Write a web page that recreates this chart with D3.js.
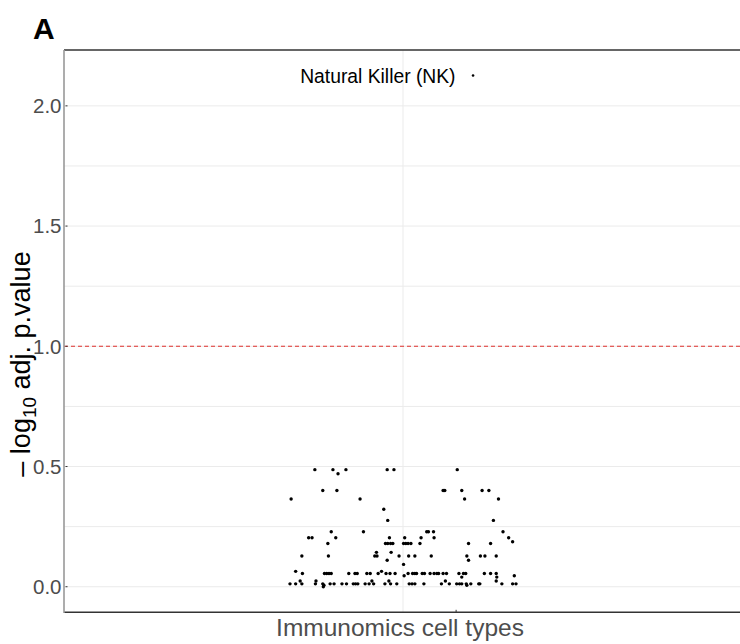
<!DOCTYPE html>
<html><head><meta charset="utf-8">
<script src="https://cdn.jsdelivr.net/npm/d3@7"></script>
<style>html,body{margin:0;padding:0;background:#fff;overflow:hidden}svg{display:block;overflow:hidden;font-family:"Liberation Sans",Arial,sans-serif}</style>
</head><body>
<svg id="chart" width="740" height="644"></svg>
<script>
// -log10 adjusted p-values by level, with jittered x positions (category at x = 1)
const levels = [0.487, 0.47, 0.40, 0.365, 0.322, 0.276, 0.229, 0.204, 0.187, 0.18, 0.143, 0.128, 0.11, 0.093, 0.064, 0.055, 0.046, 0.04, 0.024, 0.012, 0.006, 0.0];
const jitterByLevel = [
  [0.844, 0.876, 0.899, 0.972, 0.984, 1.096],
  [0.885],
  [0.858, 0.883, 1.071, 1.074, 1.104, 1.140, 1.152],
  [0.802, 0.924, 1.109, 1.169],
  [0.966],
  [0.973, 1.160],
  [0.873, 0.930, 1.042, 1.045, 1.054, 1.177],
  [0.833, 0.839, 0.881, 0.976, 1.003, 1.032, 1.055, 1.187],
  [1.194],
  [0.867, 0.969, 0.973, 0.978, 0.982, 1.001, 1.005, 1.009, 1.014, 1.030, 1.116, 1.155],
  [0.953, 0.979],
  [0.821, 0.868, 0.950, 0.954, 0.993, 1.010, 1.021, 1.050, 1.113, 1.137, 1.145, 1.165],
  [0.972, 1.116],
  [1.001],
  [0.810, 0.962],
  [0.822, 0.861, 0.865, 0.869, 0.873, 0.904, 0.915, 0.919, 0.936, 0.942, 0.956, 0.970, 0.977, 0.986, 1.009, 1.017, 1.021, 1.024, 1.034, 1.038, 1.048, 1.055, 1.060, 1.063, 1.071, 1.077, 1.099, 1.107, 1.111, 1.144, 1.155, 1.165],
  [1.002, 1.197],
  [1.104, 1.166],
  [0.818, 0.846, 0.945, 0.975, 1.075, 1.165],
  [0.800, 0.810, 0.821, 0.845, 0.858, 0.871, 0.878, 0.892, 0.900, 0.912, 0.916, 0.920, 0.933, 0.940, 0.948, 0.968, 0.978, 0.989, 1.011, 1.016, 1.021, 1.037, 1.068, 1.082, 1.095, 1.100, 1.104, 1.112, 1.120, 1.134, 1.136, 1.175, 1.194, 1.200],
  [0.860, 1.113],
  [0.859]
];
const highlightName = "Natural Killer (NK)";
const highlightX = 1.124;
const highlightY = 2.126;
const yTicks = [0.0, 0.5, 1.0, 1.5, 2.0];
const yMinor = [0.25, 0.75, 1.25, 1.75];
const threshold = 1.0;
const xTitle = "Immunomics cell types";
const panelLabel = "A";

const points = [];
levels.forEach((v, i) => jitterByLevel[i].forEach(x => points.push({x, y: v})));

const svg = d3.select("#chart");
const W = 740;
const L = 64, R = 742, T = 50, B = 612.3;

const allY = points.map(d => d.y).concat([highlightY]);
const yMin = d3.min(allY), yMax = d3.max(allY), pad = (yMax - yMin) * 0.05;
const y = d3.scaleLinear().domain([yMin - pad, yMax + pad]).range([B, T]);
const x = d3.scaleLinear().domain([0.4, 1.6]).range([L, R]);

// gridlines
svg.append("g").selectAll("line").data(yMinor.concat(yTicks)).join("line")
  .attr("x1", L).attr("x2", W).attr("y1", d => y(d)).attr("y2", d => y(d))
  .attr("stroke", "#ebebeb").attr("stroke-width", 1);
svg.append("line").attr("x1", x(1)).attr("x2", x(1)).attr("y1", T).attr("y2", B)
  .attr("stroke", "#ebebeb").attr("stroke-width", 1);

// threshold
svg.append("line").attr("x1", L).attr("x2", W).attr("y1", y(threshold)).attr("y2", y(threshold))
  .attr("stroke", "#e0302c").attr("stroke-width", 1.1).attr("stroke-dasharray", "4,3");

// points
svg.append("g").selectAll("circle").data(points).join("circle")
  .attr("cx", d => x(d.x)).attr("cy", d => y(d.y)).attr("r", 1.7).attr("fill", "#000");
svg.append("circle").attr("cx", x(highlightX)).attr("cy", y(highlightY)).attr("r", 1.3).attr("fill", "#000");
svg.append("text").attr("x", x(highlightX) - 17.5).attr("y", y(highlightY) + 7)
  .attr("text-anchor", "end").attr("font-size", 19.3).attr("fill", "#000").text(highlightName);

// panel border (top & bottom dark), left axis line gray
svg.append("line").attr("x1", L).attr("x2", W).attr("y1", T).attr("y2", T).attr("stroke", "#333").attr("stroke-width", 1.4);
svg.append("line").attr("x1", L).attr("x2", W).attr("y1", B).attr("y2", B).attr("stroke", "#333").attr("stroke-width", 1.4);
svg.append("line").attr("x1", L).attr("x2", L).attr("y1", T).attr("y2", B + 0.7).attr("stroke", "#999").attr("stroke-width", 1.6);

// y ticks (inward) and labels
const yg = svg.append("g");
yg.selectAll("line").data(yTicks).join("line")
  .attr("x1", L + 1.5).attr("x2", L + 3.5).attr("y1", d => y(d)).attr("y2", d => y(d))
  .attr("stroke", "#333").attr("stroke-width", 1);
yg.selectAll("text").data(yTicks).join("text")
  .attr("x", L - 2.5).attr("y", d => y(d)).attr("dy", "0.36em")
  .attr("text-anchor", "end").attr("font-size", 20.5).attr("fill", "#4d4d4d")
  .text(d => d3.format(".1f")(d));

// bottom tick
svg.append("line").attr("x1", x(1.094)).attr("x2", x(1.094)).attr("y1", B - 2.5).attr("y2", B)
  .attr("stroke", "#333").attr("stroke-width", 1);

// axis titles
svg.append("text").attr("x", (L + R) / 2 - 3).attr("y", 636).attr("text-anchor", "middle")
  .attr("font-size", 24.5).attr("fill", "#4d4d4d").text(xTitle);

const yt = svg.append("text").attr("transform", "translate(30,364) rotate(-90)")
  .attr("text-anchor", "middle").attr("font-size", 27).attr("fill", "#000");
yt.append("tspan").text("\u2013 log");
yt.append("tspan").attr("font-size", 19).attr("dy", 6).text("10");
yt.append("tspan").attr("dy", -6).text(" adj. p.value");

// panel label
svg.append("text").attr("x", 33).attr("y", 38.5).attr("font-size", 30).attr("font-weight", "bold")
  .attr("fill", "#000").text(panelLabel);
</script>
</body></html>
